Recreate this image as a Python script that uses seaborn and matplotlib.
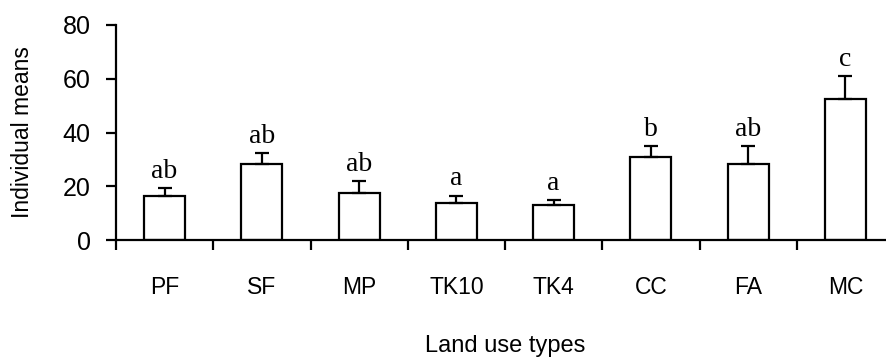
import matplotlib
matplotlib.use("Agg")
import matplotlib.pyplot as plt
import seaborn as sns
import numpy as np
import pandas as pd

# Datos
categorias = ["PF", "SF", "MP", "TK10", "TK4", "CC", "FA", "MC"]
medias = [16.5, 28.3, 17.4, 13.9, 13.0, 31.0, 28.3, 52.3]
errores = [2.8, 4.0, 4.6, 2.6, 2.0, 4.1, 6.8, 8.7]
letras = ["ab", "ab", "ab", "a", "a", "b", "ab", "c"]

df = pd.DataFrame({"tipo": categorias, "media": medias})

sns.set_style("ticks")
plt.rcParams['font.family'] = ['Liberation Sans', 'DejaVu Sans']
plt.rcParams.update({"text.color": "black", "axes.labelcolor": "black",
                     "xtick.color": "black", "ytick.color": "black",
                     "axes.edgecolor": "black"})

fig = plt.figure(figsize=(8.86, 3.58), dpi=100)
W, H = 886, 358
ax = fig.add_axes([116 / W, 118 / H, 778 / W, 215 / H])

sns.barplot(data=df, x="tipo", y="media", color="white", edgecolor="black",
            linewidth=1.6, width=0.42, ax=ax, errorbar=None, saturation=1)

# barras de error (solo hacia arriba)
pos = np.arange(len(categorias))
ax.errorbar(pos, medias, yerr=[np.zeros(len(errores)), errores], fmt="none",
            ecolor="black", elinewidth=1.6, capsize=4.7, capthick=1.6, zorder=5)

# letras de significancia
for x, m, e, l in zip(pos, medias, errores, letras):
    ax.annotate(l, (x, m + e), xytext=(0, 3), textcoords="offset points",
                ha="center", va="bottom", fontsize=20, family="Liberation Serif")

ax.set_xlim(-0.5, 7.5)
ax.set_ylim(0, 80)
ax.set_yticks([0, 20, 40, 60, 80])

ax.set_xticks(pos)
ax.set_xticks(np.arange(-0.5, 7.5, 1.0), minor=True)
ax.tick_params(axis="x", which="major", length=0, pad=26, labelsize=16.5)
ax.tick_params(axis="x", which="minor", length=7.2, width=1.6, direction="out")
ax.tick_params(axis="y", length=7.2, width=1.6, direction="out", pad=11, labelsize=18)

for s in ["top", "right"]:
    ax.spines[s].set_visible(False)
ax.spines["left"].set_linewidth(1.6)
ax.spines["bottom"].set_linewidth(1.6)

ax.set_xlabel("Land use types", fontsize=17)
ax.set_ylabel("Individual means", fontsize=16.5)
ax.xaxis.set_label_coords(0.5, -0.44)
ax.yaxis.set_label_coords(-0.105, 0.5)

fig.savefig("out.png", dpi=100)
